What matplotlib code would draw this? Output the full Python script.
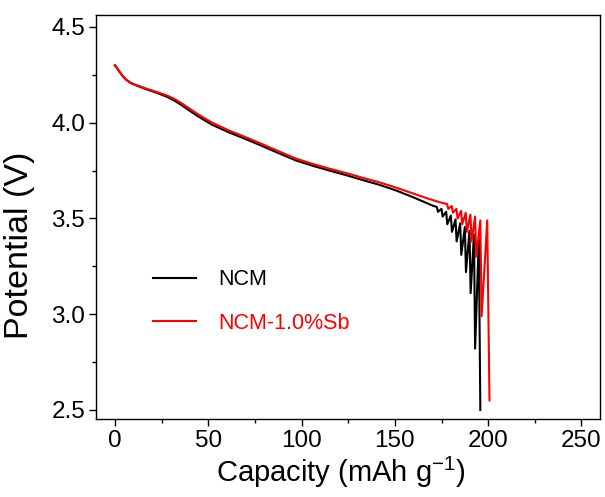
import matplotlib
matplotlib.use("Agg")
import matplotlib.pyplot as plt
from matplotlib.ticker import MultipleLocator, FormatStrFormatter

plt.rcParams['font.family'] = ['Liberation Sans', 'DejaVu Sans']

# NCM discharge curve (capacity mAh/g, potential V), sawtooth tail
ncm_cap = [0, 1, 2, 4, 6, 8.6, 12, 16, 22, 28, 32, 36, 40, 44, 48, 52, 61, 70, 79, 88, 97, 106, 115, 124, 133, 142, 151, 160, 166, 170,
           172.5, 173.1, 175, 175.6, 177.5, 178.1, 180, 180.6, 182.5, 183.1, 185, 185.6,
           187.5, 188.1, 190, 190.6, 192.4, 193.0, 195.0, 195.8]
ncm_v = [4.30, 4.288, 4.273, 4.246, 4.225, 4.207, 4.193, 4.178, 4.158, 4.135, 4.115, 4.09, 4.063, 4.037, 4.013, 3.99, 3.95, 3.915, 3.878, 3.84, 3.803, 3.775, 3.75, 3.726, 3.70, 3.675, 3.645, 3.61, 3.585, 3.568,
         3.56, 3.535, 3.55, 3.51, 3.535, 3.47, 3.515, 3.43, 3.495, 3.38, 3.475, 3.31,
         3.455, 3.22, 3.435, 3.11, 3.415, 2.82, 3.39, 2.50]

# NCM-1.0%Sb discharge curve
sb_cap = [0, 1, 2, 4, 6, 8.6, 12, 16, 22, 28, 32, 36, 40, 44, 48, 52, 61, 70, 79, 88, 97, 106, 115, 124, 133, 142, 151, 160, 169, 174,
          178, 178.6, 180.5, 181.1, 183, 183.6, 185.5, 186.1, 188, 188.6, 190.5, 191.1,
          193, 193.6, 195.8, 196.5, 199.5, 200.7]
sb_v = [4.30, 4.288, 4.273, 4.246, 4.225, 4.207, 4.195, 4.181, 4.162, 4.142, 4.124, 4.10, 4.074, 4.048, 4.024, 4.001, 3.96, 3.925, 3.888, 3.85, 3.813, 3.785, 3.76, 3.737, 3.712, 3.688, 3.66, 3.63, 3.60, 3.585,
        3.575, 3.55, 3.565, 3.53, 3.55, 3.50, 3.54, 3.47, 3.53, 3.43, 3.52, 3.38,
        3.51, 3.30, 3.49, 2.99, 3.49, 2.55]

fig = plt.figure(figsize=(6.05, 4.97), dpi=100)
ax = fig.add_axes([0.159, 0.157, 0.833, 0.813])

ax.plot(ncm_cap, ncm_v, color='black', lw=1.5, label='NCM')
ax.plot(sb_cap, sb_v, color='red', lw=1.5, label='NCM-1.0%Sb')

ax.set_xlim(-10, 260)
ax.set_ylim(2.453, 4.563)
ax.xaxis.set_major_locator(MultipleLocator(50))
ax.xaxis.set_minor_locator(MultipleLocator(25))
ax.yaxis.set_major_locator(MultipleLocator(0.5))
ax.yaxis.set_minor_locator(MultipleLocator(0.25))
ax.yaxis.set_major_formatter(FormatStrFormatter('%.1f'))
ax.tick_params(which='major', direction='out', length=5, width=1, labelsize=17.5, pad=3)
ax.tick_params(which='minor', direction='out', length=3, width=1)
for s in ax.spines.values():
    s.set_linewidth(1)

ax.set_xlabel('Capacity (mAh g$^{\\mathregular{-1}}$)', fontsize=21)
ax.xaxis.set_label_coords(0.485, -0.088)
ax.xaxis.label.set_va('top')
ax.set_ylabel('Potential (V)', fontsize=24.5)
# ylabel anchor is the right edge of the rotated text
ax.yaxis.set_label_coords(-0.122, 0.43)

leg = ax.legend(loc='center left', bbox_to_anchor=(0.096, 0.291), borderaxespad=0, frameon=False,
                fontsize=15.5, handlelength=2.0, labelspacing=1.05, handletextpad=1.0)
leg.get_texts()[1].set_color('red')

fig.savefig('out.png', dpi=100)
